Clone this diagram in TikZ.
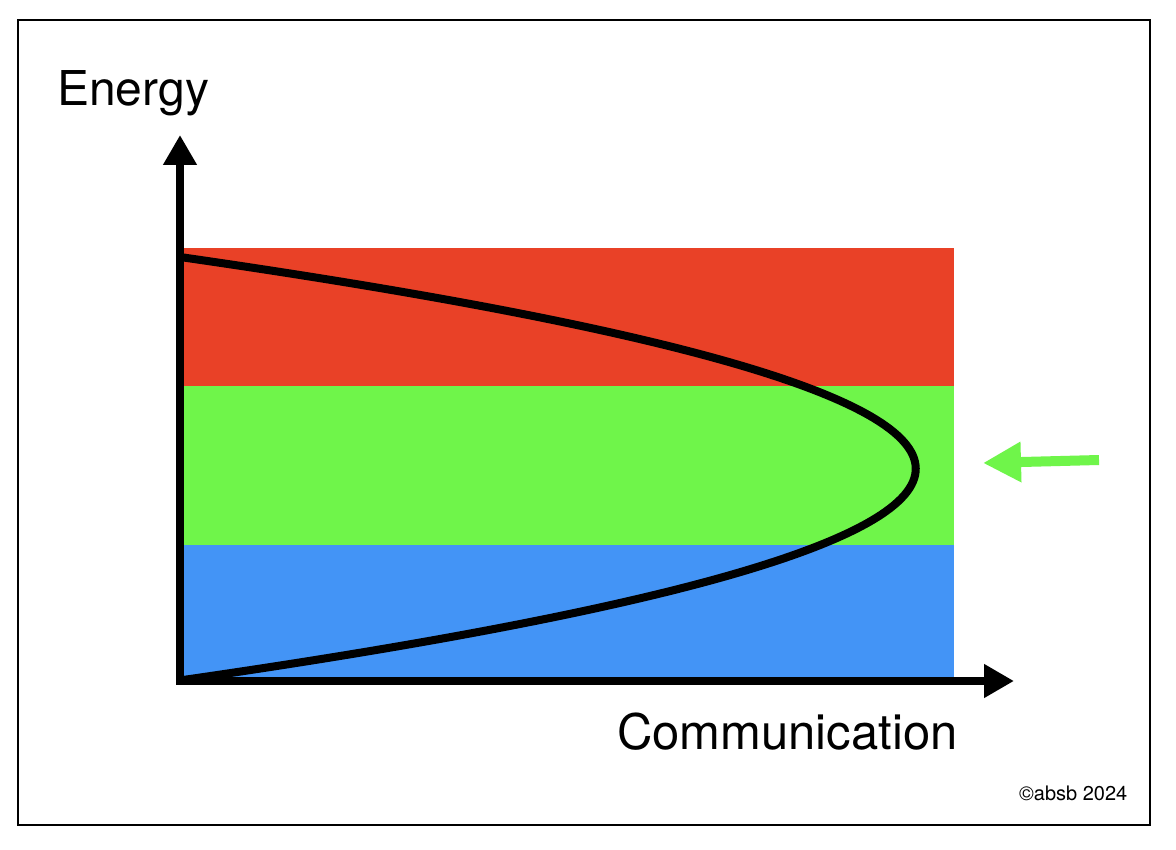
\documentclass[tikz,border=0pt]{standalone}
\usepackage{fontspec}
\setmainfont{TeX Gyre Heros}
\usetikzlibrary{arrows.meta}
\definecolor{bandred}{RGB}{233,65,39}
\definecolor{bandgreen}{RGB}{111,245,74}
\definecolor{bandblue}{RGB}{67,148,246}
\tikzset{
  axisline/.style={line width=8pt,-{Triangle[length=30pt,width=32pt]}},
  curveline/.style={line width=8pt},
  pointer/.style={line width=10pt,bandgreen,-{Triangle[length=38pt,width=38pt]}},
  bigtext/.style={font=\fontsize{48}{56}\selectfont,inner sep=0pt,anchor=base west},
  smalltext/.style={font=\fontsize{20}{24}\selectfont,inner sep=0pt,anchor=base west}
}
\begin{document}
\begin{tikzpicture}[x=1pt,y=-1pt]
\useasboundingbox (0,0) rectangle (1176,850);
\fill[white] (0,0) rectangle (1176,850);
\draw[line width=2pt] (18,20) rectangle (1150,825);
% bands
\fill[bandred] (184,248) rectangle (954,386);
\fill[bandgreen] (184,386) rectangle (954,545);
\fill[bandblue] (184,545) rectangle (954,681);
% coordinates
\coordinate (origin) at (180,684);
\coordinate (ytip) at (180,135);
\coordinate (xstart) at (176,681);
\coordinate (xtip) at (1014,681);
\coordinate (ctop) at (180,257);
\coordinate (cc1) at (1160,398);
\coordinate (cc2) at (1161,539);
\coordinate (cbot) at (183,680);
\coordinate (pstart) at (1099,460);
\coordinate (ptip) at (983,463);
% curve
\draw[curveline] (ctop) .. controls (cc1) and (cc2) .. (cbot);
% axes
\draw[axisline] (origin) -- (ytip);
\draw[axisline] (xstart) -- (xtip);
% pointer
\draw[pointer] (pstart) -- (ptip);
% labels
\node[bigtext] (ylabel) at (57,106) {Energy};
\node[bigtext,font=\fontsize{49}{56}\selectfont] (xlabel) at (617,749) {Communication};
\node[smalltext] (copy) at (1019,800) {©absb 2024};
\end{tikzpicture}
\end{document}
